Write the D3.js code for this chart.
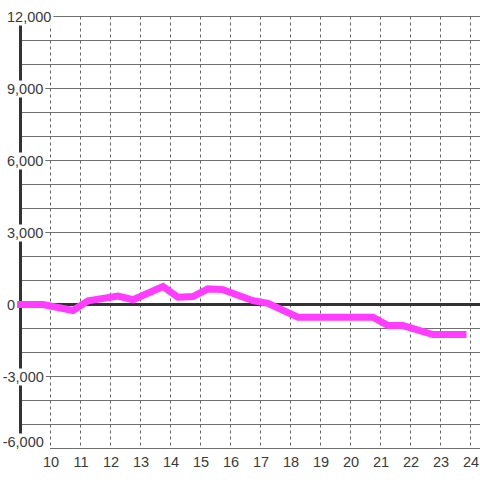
<!DOCTYPE html>
<html>
<head>
<meta charset="utf-8">
<script src="https://cdn.jsdelivr.net/npm/d3@7"></script>
<style>
  body { margin: 0; background: #fff; }
  svg text { font-family: "Liberation Sans", Arial, sans-serif; font-size: 14.5px; fill: #3a3a3a; }
</style>
</head>
<body>
<div id="chart"></div>
<script>
"use strict"

// hour of day, value
const hours  = [9, 9.75, 10.75, 11.25, 12.25, 12.75, 13.75, 14.25, 14.75, 15.25, 15.75, 16.75, 17.25, 18.25, 20.75, 21.25, 21.75, 22.75, 23.75];
const values = [0, 0, -250, 150, 350, 200, 750, 300, 330, 650, 620, 160, 50, -530, -530, -880, -880, -1250, -1250];
const xTicks = [10, 11, 12, 13, 14, 15, 16, 17, 18, 19, 20, 21, 22, 23, 24];
const yTicks = [-6000, -3000, 0, 3000, 6000, 9000, 12000];
const yGrid  = d3.range(-6000, 12001, 1000);

const W = 480, H = 480;
const x = d3.scaleLinear().domain([9, 24]).range([20.5, 470.5]);
const y = d3.scaleLinear().domain([-6000, 12000]).range([448.5, 16.5]);

const svg = d3.select("#chart").append("svg")
	.attr("width", W)
	.attr("height", H);

// horizontal grid
svg.append("g").selectAll("line")
	.data(yGrid)
	.enter().append("line")
		.attr("x1", d => d == -6000 ? 50 : x(9))
		.attr("x2", W)
		.attr("y1", d => y(d))
		.attr("y2", d => y(d))
		.attr("stroke", "#707070")
		.attr("stroke-width", 1);

// vertical dotted grid
svg.append("g").selectAll("line")
	.data(xTicks)
	.enter().append("line")
		.attr("x1", d => x(d))
		.attr("x2", d => x(d))
		.attr("y1", y(12000))
		.attr("y2", y(-6000))
		.attr("stroke", "#666")
		.attr("stroke-width", 1)
		.attr("stroke-dasharray", "3,3");

// zero line and y axis line
svg.append("line")
	.attr("x1", x(9)).attr("x2", W)
	.attr("y1", y(0)).attr("y2", y(0))
	.attr("stroke", "#333").attr("stroke-width", 3);

svg.append("line")
	.attr("x1", x(9)).attr("x2", x(9))
	.attr("y1", y(12000)).attr("y2", y(-6000))
	.attr("stroke", "#333").attr("stroke-width", 3);

// data line
const line = d3.line()
	.x((d, i) => x(hours[i]))
	.y(d => y(d));

svg.append("path")
	.datum(values)
	.attr("d", line)
	.attr("fill", "none")
	.attr("stroke", "#ff3cff")
	.attr("stroke-width", 7)
	.attr("stroke-linecap", "square")
	.attr("stroke-linejoin", "miter");

// x labels
svg.append("g")
	.attr("transform", `translate(0,${H - 13})`)
	.call(d3.axisBottom(x).tickValues(xTicks).tickSize(0).tickPadding(0).tickFormat(d3.format("d")))
	.call(g => g.select(".domain").remove())
	.call(g => g.selectAll("text")
		.attr("dy", 0)
		.attr("font-size", null)
		.attr("font-family", null)
		.attr("fill", null));

// y labels with white boxes
const fmt = d3.format(",");
const yLab = svg.append("g").selectAll("g")
	.data(yTicks)
	.enter().append("g");

yLab.append("text")
	.attr("x", d => d < 0 ? 2.7 : 7)
	.attr("y", d => d == -6000 ? y(d) - 1.5 : y(d) + 5.5)
	.text(d => fmt(d).replace("−", "-"));

yLab.each(function() {
	const t = d3.select(this).select("text");
	const b = t.node().getBBox();
	d3.select(this).insert("rect", "text")
		.attr("x", 0)
		.attr("y", b.y - 0.5)
		.attr("width", b.x + b.width + 2)
		.attr("height", b.height + 1)
		.attr("fill", "#fff");
});
</script>
</body>
</html>
